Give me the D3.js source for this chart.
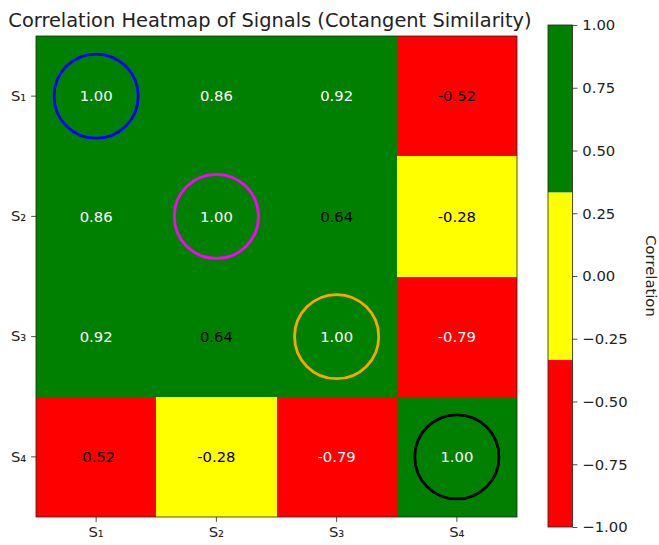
<!DOCTYPE html>
<html>
<head>
<meta charset="utf-8">
<script src="https://cdn.jsdelivr.net/npm/d3@7"></script>
<style>
  body { margin: 0; background: #fff; }
  text { font-family: "DejaVu Sans", sans-serif; }
</style>
</head>
<body>
<div id="chart"></div>
<script>
// data
const signals = ["S\u2081", "S\u2082", "S\u2083", "S\u2084"];
const matrix = [
  [1.00, 0.86, 0.92, -0.52],
  [0.86, 1.00, 0.64, -0.28],
  [0.92, 0.64, 1.00, -0.79],
  [-0.52, -0.28, -0.79, 1.00]
];
const circleColors = ["blue", "magenta", "orange", "black"];
const barTicks = [1.00, 0.75, 0.50, 0.25, 0.00, -0.25, -0.50, -0.75, -1.00];
const bandColors = ["red", "yellow", "green"];

const W = 659, H = 545;
const fs = "14.8px";
const svg = d3.select("#chart").append("svg")
  .attr("width", W).attr("height", H);

// heatmap area
const hmLeft = 36, hmTop = 36, size = 481;
const x = d3.scaleBand().domain(signals).range([hmLeft, hmLeft + size]);
const y = d3.scaleBand().domain(signals).range([hmTop, hmTop + size]);

const color = d3.scaleQuantize().domain([-1, 1]).range(bandColors);

const cells = [];
matrix.forEach((row, i) => row.forEach((v, j) => cells.push({r: signals[i], c: signals[j], v})));

svg.append("g")
  .attr("shape-rendering", "crispEdges")
  .selectAll("rect")
  .data(cells)
  .join("rect")
    .attr("x", d => Math.round(x(d.c)))
    .attr("y", d => Math.round(y(d.r)))
    .attr("width", d => Math.round(x(d.c) + x.bandwidth()) - Math.round(x(d.c)))
    .attr("height", d => Math.round(y(d.r) + y.bandwidth()) - Math.round(y(d.r)))
    .attr("fill", d => color(d.v));

// annotations
svg.append("g").selectAll("text")
  .data(cells)
  .join("text")
    .attr("x", d => x(d.c) + x.bandwidth() / 2)
    .attr("y", d => y(d.r) + y.bandwidth() / 2)
    .attr("dy", "0.36em")
    .attr("text-anchor", "middle")
    .style("font-size", fs)
    .attr("fill", d => Math.abs(d.v) > 0.7 ? "white" : "black")
    .text(d => d.v.toFixed(2));

// diagonal circles
svg.append("g").selectAll("circle")
  .data(signals)
  .join("circle")
    .attr("cx", d => x(d) + x.bandwidth() / 2)
    .attr("cy", d => y(d) + y.bandwidth() / 2)
    .attr("r", x.bandwidth() * 0.35)
    .attr("fill", "none")
    .attr("stroke", (d, i) => circleColors[i])
    .attr("stroke-width", 2.8);

// axes
const xAxis = svg.append("g")
  .attr("transform", `translate(0,${hmTop + size})`)
  .call(d3.axisBottom(x).tickSize(4.9).tickPadding(4.9));
const yAxis = svg.append("g")
  .attr("transform", `translate(${hmLeft},0)`)
  .call(d3.axisLeft(y).tickSize(4.9).tickPadding(4.9));
[xAxis, yAxis].forEach(a => {
  a.select(".domain").remove();
  a.selectAll("text").style("font-size", fs).attr("fill", "#222");
  a.selectAll("line").attr("stroke", "#222").attr("stroke-width", 0.8);
});

svg.append("rect")
  .attr("x", hmLeft).attr("y", hmTop)
  .attr("width", size).attr("height", size)
  .attr("fill", "none").attr("stroke", "#222").attr("stroke-width", 0.8);

// title
svg.append("text")
  .attr("x", 270)
  .attr("y", 27)
  .attr("text-anchor", "middle")
  .style("font-size", "19.4px")
  .attr("fill", "#222")
  .text("Correlation Heatmap of Signals (Cotangent Similarity)");

// colorbar
const cbX = 548, cbW = 24.5, cbTop = 25, cbBot = 527;
const cy = d3.scaleLinear().domain([-1, 1]).range([cbBot, cbTop]);
const edges = [-1, ...color.thresholds(), 1];
svg.append("g").selectAll("rect")
  .data(bandColors)
  .join("rect")
    .attr("x", cbX)
    .attr("y", (d, i) => cy(edges[i + 1]))
    .attr("width", cbW)
    .attr("height", (d, i) => cy(edges[i]) - cy(edges[i + 1]))
    .attr("fill", d => d);
svg.append("rect")
  .attr("x", cbX).attr("y", cbTop)
  .attr("width", cbW).attr("height", cbBot - cbTop)
  .attr("fill", "none").attr("stroke", "#222").attr("stroke-width", 0.8);

const cAxis = svg.append("g")
  .attr("transform", `translate(${cbX + cbW},0)`)
  .call(d3.axisRight(cy).tickValues(barTicks).tickSize(4.9).tickPadding(4.9)
    .tickFormat(d => d3.format(".2f")(d).replace("-", "\u2212")));
cAxis.select(".domain").remove();
cAxis.selectAll("text").style("font-size", fs).attr("fill", "#222");
cAxis.selectAll("line").attr("stroke", "#222").attr("stroke-width", 0.8);

svg.append("text")
  .attr("transform", `translate(646,${(cbTop + cbBot) / 2}) rotate(90)`)
  .attr("text-anchor", "middle")
  .style("font-size", fs)
  .attr("fill", "#222")
  .text("Correlation");
</script>
</body>
</html>
